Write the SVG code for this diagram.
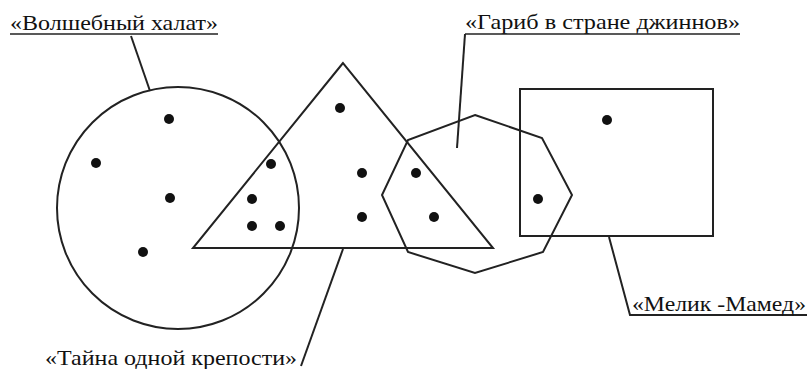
<svg xmlns="http://www.w3.org/2000/svg" width="809" height="369" viewBox="0 0 809 369">
<style>
.s{fill:none;stroke:#222;stroke-width:2}
.d{fill:#111}
.u{stroke:#222;stroke-width:1.6}
</style>
<rect width="809" height="369" fill="#fff"/>
<g id="connectors">
<line class="s" x1="131" y1="36" x2="150" y2="91"/>
<line class="s" x1="465" y1="34" x2="457" y2="148"/>
<line class="s" x1="343" y1="249" x2="301" y2="366"/>
<polyline class="s" points="609,237 630,315 807,315"/>
</g>
<g id="circle">
<circle class="s" cx="178" cy="208" r="121"/>
<circle class="d" cx="169" cy="119" r="5"/>
<circle class="d" cx="96" cy="163" r="5"/>
<circle class="d" cx="170" cy="198" r="5"/>
<circle class="d" cx="143" cy="252" r="5"/>
</g>
<g id="triangle">
<polygon class="s" points="343,63 193,248 493,248"/>
<circle class="d" cx="340" cy="108" r="5"/>
<circle class="d" cx="271" cy="164" r="5"/>
<circle class="d" cx="252" cy="199" r="5"/>
<circle class="d" cx="252" cy="226" r="5"/>
<circle class="d" cx="280" cy="226" r="5"/>
<circle class="d" cx="362" cy="173" r="5"/>
<circle class="d" cx="362" cy="217" r="5"/>
<circle class="d" cx="416" cy="173" r="5"/>
<circle class="d" cx="434" cy="217" r="5"/>
</g>
<g id="octagon">
<polygon class="s" points="475,115 542,138 572,195 543,252 475,273 408,252 382,195 408,140"/>
</g>
<g id="rectangle">
<rect class="s" x="520" y="89" width="193" height="147"/>
<circle class="d" cx="607" cy="120" r="5"/>
<circle class="d" cx="538" cy="199" r="5"/>
</g>
<g font-family="'Liberation Serif', 'DejaVu Serif', serif" font-size="21" fill="#111">
<g id="label-volsh">
<text x="10" y="30" textLength="208" lengthAdjust="spacingAndGlyphs">«Волшебный халат»</text>
<line class="u" x1="10" y1="34" x2="218" y2="34"/>
</g>
<g id="label-garib">
<text x="465" y="29" textLength="275" lengthAdjust="spacingAndGlyphs">«Гариб в стране джиннов»</text>
<line class="u" x1="465" y1="34" x2="740" y2="34"/>
</g>
<g id="label-taina">
<text x="45" y="365" textLength="252" lengthAdjust="spacingAndGlyphs">«Тайна одной крепости»</text>
</g>
<g id="label-melik">
<text x="632" y="311" textLength="174" lengthAdjust="spacingAndGlyphs">«Мелик -Мамед»</text>
</g>
</g>
</svg>
